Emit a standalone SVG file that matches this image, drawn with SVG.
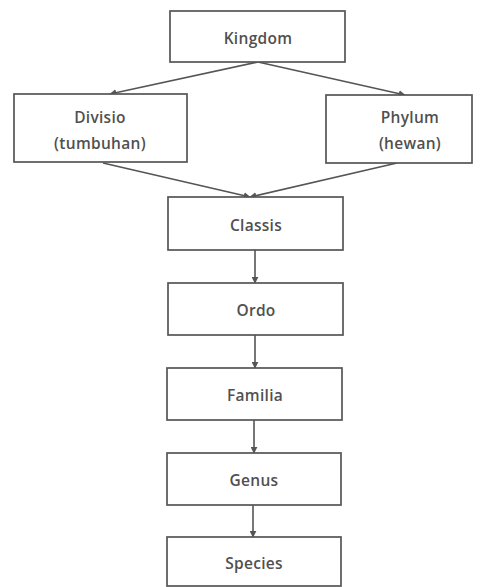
<svg xmlns="http://www.w3.org/2000/svg" width="486" height="587" viewBox="0 0 486 587">
<defs>
<marker id="ah" viewBox="0 0 10 10" refX="9" refY="5" markerWidth="7" markerHeight="7" markerUnits="userSpaceOnUse" orient="auto">
<path d="M0,0 L10,5 L0,10 z" fill="#555"/>
</marker>
</defs>
<style>
rect{fill:#fff;stroke:#555;stroke-width:1.7}
text{font-family:"Open Sans","Noto Sans",sans-serif;font-size:15.5px;font-weight:600;fill:#505050;text-anchor:middle;dominant-baseline:central;letter-spacing:0.3px}
.c line{stroke:#555;stroke-width:1.6;marker-end:url(#ah)}
</style>
<rect x="0" y="0" width="486" height="587" style="fill:#fff;stroke:none"/>
<g class="c" id="connectors">
<line x1="258" y1="62" x2="110" y2="94"/>
<line x1="258" y1="62" x2="405" y2="95"/>
<line x1="103" y1="163" x2="250" y2="197"/>
<line x1="397" y1="163" x2="250" y2="197"/>
<line x1="255" y1="250" x2="255" y2="283"/>
<line x1="255" y1="335" x2="255" y2="368"/>
<line x1="254" y1="420" x2="254" y2="453"/>
<line x1="253" y1="505" x2="253" y2="537"/>
</g>
<g id="kingdom"><rect x="170" y="11" width="175" height="51"/><text x="258" y="38">Kingdom</text></g>
<g id="divisio"><rect x="14" y="94" width="173" height="68"/><text x="100" y="117">Divisio</text><text x="100" y="143">(tumbuhan)</text></g>
<g id="phylum"><rect x="326" y="95" width="146" height="68"/><text x="410" y="117">Phylum</text><text x="410" y="143">(hewan)</text></g>
<g id="classis"><rect x="168" y="197" width="175" height="53"/><text x="256" y="225">Classis</text></g>
<g id="ordo"><rect x="168" y="283" width="175" height="52"/><text x="256" y="310">Ordo</text></g>
<g id="familia"><rect x="167" y="368" width="175" height="52"/><text x="255" y="395">Familia</text></g>
<g id="genus"><rect x="167" y="453" width="174" height="52"/><text x="254" y="480">Genus</text></g>
<g id="species"><rect x="167" y="537" width="174" height="49"/><text x="254" y="563">Species</text></g>
</svg>
